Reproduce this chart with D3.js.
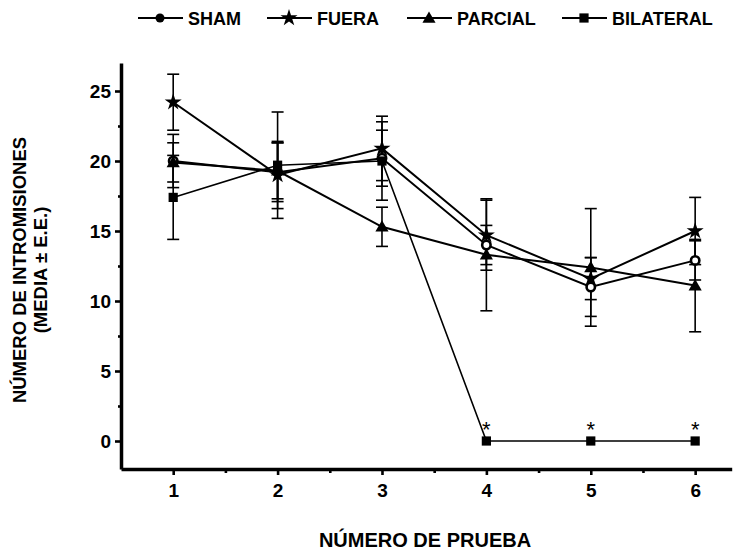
<!DOCTYPE html>
<html>
<head>
<meta charset="utf-8">
<script src="https://cdn.jsdelivr.net/npm/d3@7"></script>
<style>
  body { margin: 0; background: #fff; }
  text { font-family: "Liberation Sans", Arial, sans-serif; font-weight: bold; }
  .axis .domain { stroke: #000; stroke-width: 3.5px; }
  .axis .tick line { stroke: #000; stroke-width: 2.6px; }
</style>
</head>
<body>
<div id="chart"></div>
<script>
// data
const pruebas = [1, 2, 3, 4, 5, 6];
const groups = ['SHAM', 'FUERA', 'PARCIAL', 'BILATERAL'];
const shamMean = [20.0, 19.2, 20.2, 14.0, 11.0, 12.9];
const shamSE = [1.9, 2.1, 2.0, 1.4, 2.1, 1.4];
const fueraMean = [24.2, 19.0, 20.9, 14.7, 11.6, 15.0];
const fueraSE = [2.0, 2.4, 2.3, 2.5, 1.5, 2.4];
const parcialMean = [19.9, 19.3, 15.3, 13.3, 12.4, 11.1];
const parcialSE = [1.4, 2.0, 1.4, 4.0, 4.2, 3.3];
const bilateralMean = [17.4, 19.7, 20.0, 0, 0, 0];
const bilateralSE = [3.0, 3.8, 2.8, 0, 0, 0];
const significant = [4, 5, 6];
const yTicks = [0, 5, 10, 15, 20, 25];

const series = [
  { name: 'SHAM', mean: shamMean, se: shamSE, symbol: 'circle', lw: 2 },
  { name: 'FUERA', mean: fueraMean, se: fueraSE, symbol: 'star', lw: 2 },
  { name: 'PARCIAL', mean: parcialMean, se: parcialSE, symbol: 'triangle', lw: 2 },
  { name: 'BILATERAL', mean: bilateralMean, se: bilateralSE, symbol: 'square', lw: 1.6 },
];

const W = 739, H = 552;
const svg = d3.select('#chart').append('svg')
  .attr('width', W).attr('height', H);

const x = d3.scaleLinear().domain([0.5, 6.35]).range([121, 731.7]);
const y = d3.scaleLinear().domain([-2, 27]).range([469, 63]);

function drawMarker(g, type, cx, cy) {
  if (type === 'circle') {
    g.append('circle').attr('cx', cx).attr('cy', cy).attr('r', 4.2)
      .attr('fill', '#fff').attr('stroke', '#000').attr('stroke-width', 2.6);
  } else {
    const sym = { star: d3.symbolStar, triangle: d3.symbolTriangle, square: d3.symbolSquare }[type];
    const size = { star: 90, triangle: 75, square: 85 }[type];
    g.append('path')
      .attr('d', d3.symbol().type(sym).size(size)())
      .attr('transform', `translate(${cx},${cy + (type === 'triangle' ? 1 : 0)})`)
      .attr('fill', '#000');
  }
}

// axes
const yAxis = svg.append('g').attr('class', 'axis').attr('transform', `translate(${x.range()[0]},0)`)
  .call(d3.axisLeft(y).tickValues(yTicks).tickSize(6).tickSizeOuter(0).tickPadding(4));
const yMinor = svg.append('g').attr('class', 'axis').attr('transform', `translate(${x.range()[0]},0)`)
  .call(d3.axisLeft(y).tickValues([2.5, 7.5, 12.5, 17.5, 22.5]).tickSize(3).tickFormat(''));
const xAxis = svg.append('g').attr('class', 'axis').attr('transform', `translate(0,${y.range()[0]})`)
  .call(d3.axisBottom(x).tickValues(pruebas).tickSize(6).tickSizeOuter(0).tickPadding(9).tickFormat(d3.format('d')));
const xMinor = svg.append('g').attr('class', 'axis').attr('transform', `translate(0,${y.range()[0]})`)
  .call(d3.axisBottom(x).tickValues([1.5, 2.5, 3.5, 4.5, 5.5]).tickSize(4).tickFormat(''));

[yAxis, xAxis].forEach(a => {
  a.selectAll('.tick text').attr('fill', '#000').style('font-size', '19px')
    .style('font-family', '"Liberation Sans", Arial, sans-serif').style('font-weight', 'bold');
});
yMinor.select('.domain').remove();
xMinor.select('.domain').remove();

// lines
const line = d3.line().x((d, i) => x(pruebas[i])).y(d => y(d));
series.forEach(s => {
  svg.append('path').datum(s.mean).attr('d', line)
    .attr('fill', 'none').attr('stroke', '#000').attr('stroke-width', s.lw);
});

// error bars
series.forEach(s => {
  s.mean.forEach((m, i) => {
    if (!s.se[i]) return;
    const cx = x(pruebas[i]);
    const g = svg.append('g').attr('stroke', '#000').attr('stroke-width', 1.6);
    g.append('line').attr('x1', cx).attr('x2', cx).attr('y1', y(m - s.se[i])).attr('y2', y(m + s.se[i]));
    [m - s.se[i], m + s.se[i]].forEach(v => {
      g.append('line').attr('x1', cx - 6).attr('x2', cx + 6).attr('y1', y(v)).attr('y2', y(v));
    });
  });
});

// markers
series.forEach(s => {
  const g = svg.append('g');
  s.mean.forEach((m, i) => drawMarker(g, s.symbol, x(pruebas[i]), y(m)));
});

// significance asterisks
svg.selectAll('.ast').data(significant).enter().append('text')
  .attr('x', d => x(d)).attr('y', y(0) - 4)
  .attr('text-anchor', 'middle').style('font-size', '22px').style('font-weight', 'normal')
  .text('*');

// legend
const legendX = [138, 267, 407, 562];
series.forEach((s, i) => {
  const g = svg.append('g').attr('transform', `translate(${legendX[i]},18)`);
  g.append('line').attr('x1', 0).attr('x2', 45).attr('y1', 0).attr('y2', 0)
    .attr('stroke', '#000').attr('stroke-width', 2);
  if (s.symbol === 'circle') {
    g.append('circle').attr('cx', 22).attr('cy', 0).attr('r', 4.5).attr('fill', '#000');
  } else {
    drawMarker(g, s.symbol, 22, 0);
  }
  g.append('text').attr('x', 50).attr('y', 6.5).style('font-size', '18px').text(s.name);
});

// axis titles
svg.append('text').attr('x', 425).attr('y', 547).attr('text-anchor', 'middle')
  .style('font-size', '20px').text('NÚMERO DE PRUEBA');
svg.append('text').attr('transform', 'translate(26,270) rotate(-90)').attr('text-anchor', 'middle')
  .style('font-size', '18.5px').text('NÚMERO DE INTROMISIONES');
svg.append('text').attr('transform', 'translate(47,270) rotate(-90)').attr('text-anchor', 'middle')
  .style('font-size', '18.5px').text('(MEDIA ± E.E.)');
</script>
</body>
</html>
